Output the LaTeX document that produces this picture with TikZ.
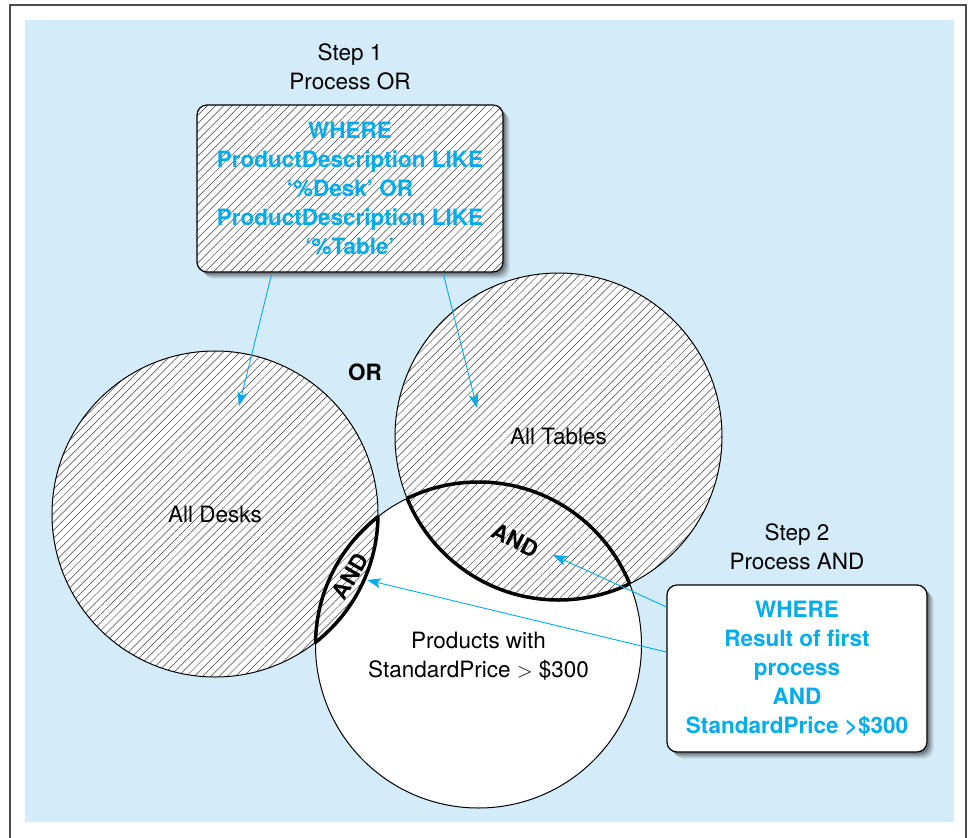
\documentclass[tikz,border=0pt]{standalone}
\usepackage{fontspec}
\setmainfont{TeX Gyre Heros}
\usetikzlibrary{positioning,patterns.meta,arrows.meta,shadows}

\definecolor{panelblue}{RGB}{212,236,249}
\definecolor{sqlcyan}{RGB}{0,172,236}

\tikzset{
  hatched/.style={preaction={fill=white},
                  pattern={Lines[angle=45,distance=5.8pt,line width=0.5pt]},
                  pattern color=black!75},
  setcircle/.style={circle, draw, line width=1pt, inner sep=0pt, minimum size=326pt},
  sqlbox/.style={draw, line width=1.2pt, rounded corners=10pt, align=center,
                 text=sqlcyan, font=\fontsize{22.5}{29}\selectfont\bfseries,
                 drop shadow={shadow xshift=6.5pt, shadow yshift=-6.5pt, opacity=0.12, fill=black},
                 drop shadow={shadow xshift=4.5pt, shadow yshift=-4.5pt, opacity=0.18, fill=black},
                 drop shadow={shadow xshift=2.5pt, shadow yshift=-2.5pt, opacity=0.25, fill=black}},
  steplabel/.style={align=center, inner sep=0pt},
  andlabel/.style={inner sep=1pt, font=\fontsize{22.5}{29}\selectfont\bfseries},
  andline/.style={line width=3.5pt},
  pointer/.style={draw=sqlcyan, line width=0.9pt, -{Stealth[length=14pt,width=10pt,inset=3.5pt]}, sqlcyan},
}

\begin{document}
\begin{tikzpicture}[x=1pt, y=-1pt, font=\fontsize{22.5}{29}\selectfont]
\useasboundingbox (0,0) rectangle (970,838);

% frame and panel
\draw[line width=1.5pt, black!70] (10,850) -- (10,5) -- (966,5) -- (966,850);
\fill[panelblue] (25,20) rectangle (954,822);

% the three sets
\node[setcircle, hatched] (desks) at (215,514) {All Desks};
\node[setcircle, hatched, minimum size=327pt] (tables) at (558.5,436.5) {All Tables};
\node[setcircle, fill=white] (price) at (478.5,645) {};
\node[steplabel] (pricetext) at (478.5,656) {Products with\\StandardPrice $>$ \$300};

% AND regions
\begin{scope}
  \clip (price.center) circle[radius=163];
  \fill[hatched] (desks.center) circle[radius=163];
  \fill[hatched] (tables.center) circle[radius=163.5];
  \draw[andline] (desks.center) circle[radius=163];
  \draw[andline] (tables.center) circle[radius=163.5];
\end{scope}
\begin{scope}
  \clip (desks.center) circle[radius=163];
  \draw[andline] (price.center) circle[radius=163];
\end{scope}
\begin{scope}
  \clip (tables.center) circle[radius=163.5];
  \draw[andline] (price.center) circle[radius=163];
\end{scope}

\node[andlabel, rotate=-27] (andtables) at (515,540) {AND};
\node[andlabel, rotate=60] (anddesks) at (350,576) {AND};
\node[andlabel] (orlabel) at (365,372) {OR};

% step 1
\node[sqlbox, hatched, minimum width=306pt, minimum height=167pt] (step1box) at (350,188.5)
  {WHERE\\ProductDescription LIKE\\`\%Desk' OR\\ProductDescription LIKE\\`\%Table'};
\node[steplabel, above=14pt of step1box] (step1) {Step 1\\Process OR};

% step 2
\node[sqlbox, fill=white, minimum width=260pt, minimum height=167pt] (step2box) at (797,668.5)
  {WHERE\\Result of first\\process\\AND\\StandardPrice >\$300};
\node[steplabel, above=14pt of step2box] (step2) {Step 2\\Process AND};

% arrows
\coordinate (desktip) at (239,406);
\coordinate (tabletip) at (477,408);
\coordinate (andtip) at (553,555);
\coordinate (desktip2) at (367,580);
\draw[pointer] ([xshift=-78pt]step1box.south) -- (desktip);
\draw[pointer] ([xshift=93pt]step1box.south) -- (tabletip);
\draw[pointer] ([yshift=61.5pt]step2box.west) -- (andtip);
\draw[pointer] ([yshift=16.5pt]step2box.west) -- (desktip2);

\end{tikzpicture}
\end{document}
